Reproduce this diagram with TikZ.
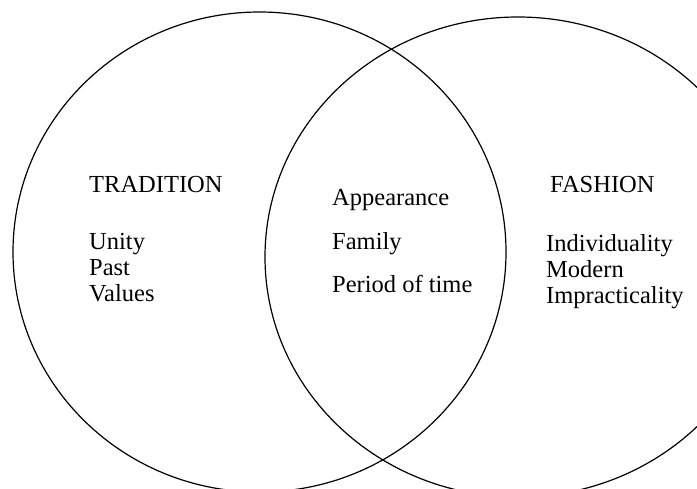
\documentclass[tikz,border=0pt]{standalone}
\usepackage{fontspec}
\setmainfont{Liberation Serif}
\begin{document}
\begin{tikzpicture}[x=1pt,y=-1pt,
  ring/.style={draw=black,line width=1.2pt},
  lbl/.style={anchor=base west,inner sep=0pt,font=\fontsize{24.5}{26}\selectfont}]
\useasboundingbox (0,0) rectangle (697,488);
\draw[ring] (259.5,252) ellipse [x radius=246.5, y radius=240];
\draw[ring] (518,257) ellipse [x radius=253, y radius=240];
\node[lbl] (trad) at (89,192) {TRADITION};
\node[lbl] (unity) at (89,249) {Unity};
\node[lbl] (past) at (89,275) {Past};
\node[lbl] (values) at (89,301) {Values};
\node[lbl] (appear) at (332,205) {Appearance};
\node[lbl] (family) at (332,249) {Family};
\node[lbl] (period) at (332,292) {Period of time};
\node[lbl] (fashion) at (550,192) {FASHION};
\node[lbl] (indiv) at (546,251) {Individuality};
\node[lbl] (modern) at (546,277) {Modern};
\node[lbl] (impract) at (546,303) {Impracticality};
\end{tikzpicture}
\end{document}
